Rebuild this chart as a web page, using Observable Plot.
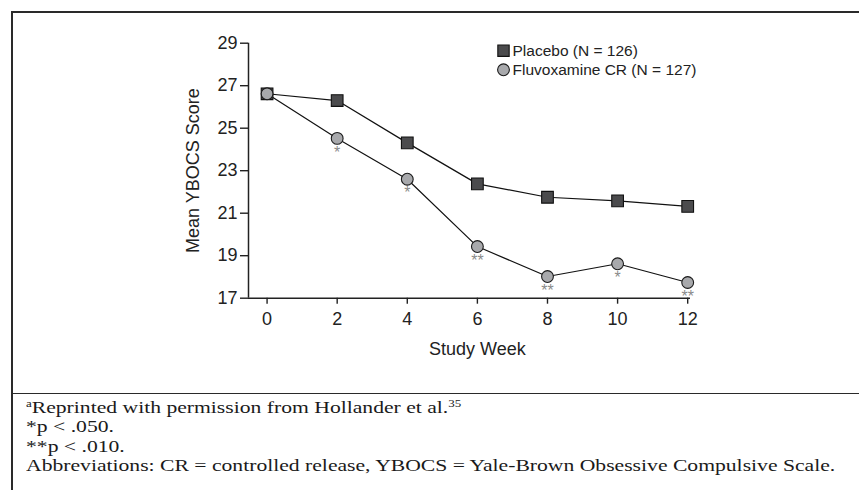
<!DOCTYPE html>
<html>
<head>
<meta charset="utf-8">
<script src="https://cdn.jsdelivr.net/npm/d3@7"></script>
<script src="https://cdn.jsdelivr.net/npm/@observablehq/plot@0.6"></script>
<style>
  html, body { margin: 0; padding: 0; background: #fff; }
  #wrap { position: relative; width: 859px; height: 490px; overflow: hidden; background: #fff; }
  #chart { position: absolute; left: 0; top: 0; }
  .bl { position: absolute; background: #2a2a2a; }
  #notes { position: absolute; left: 26px; top: 397.6px; font-family: "Liberation Serif", "Times New Roman", serif;
           font-size: 17.6px; line-height: 19.6px; color: #1a1a1a; white-space: nowrap;
           transform: scaleX(1.23); transform-origin: 0 0; }
  #notes sup { font-size: 0.6em; line-height: 0; vertical-align: 0.6em; }
</style>
</head>
<body>
<div id="wrap">
  <div id="chart"></div>
  <div class="bl" style="left:11px; top:11px; width:1.6px; height:500px;"></div>
  <div class="bl" style="left:11px; top:11px; width:870px; height:1.6px;"></div>
  <div class="bl" style="left:11px; top:392.5px; width:870px; height:1.8px;"></div>
  <div id="notes">
    <div><sup>a</sup>Reprinted with permission from Hollander et al.<sup>35</sup></div>
    <div>*p &lt; .050.</div>
    <div>**p &lt; .010.</div>
    <div>Abbreviations: CR = controlled release, YBOCS = Yale-Brown Obsessive Compulsive Scale.</div>
  </div>
</div>
<script>
const weeks = [0, 2, 4, 6, 8, 10, 12];
const placebo = [26.62, 26.3, 24.31, 22.38, 21.75, 21.58, 21.32];
const fluvoxamine = [26.62, 24.52, 22.6, 19.43, 18.02, 18.62, 17.74];
const significance = ["", "*", "*", "**", "**", "*", "**"];
const xTicks = [0, 2, 4, 6, 8, 10, 12];
const yTicks = [17, 19, 21, 23, 25, 27, 29];
const legendLabels = ["Placebo (N = 126)", "Fluvoxamine CR (N = 127)"];
const xLabel = "Study Week";
const yLabel = "Mean YBOCS Score";

const placeboData = weeks.map((w, i) => ({week: w, score: placebo[i]}));
const fluvData = weeks.map((w, i) => ({week: w, score: fluvoxamine[i], sig: significance[i]}));

const xMin = -0.53, xMax = 12.08;
const ink = "#222";

const plot = Plot.plot({
  width: 859,
  height: 393,
  marginLeft: 248,
  marginRight: 169,
  marginTop: 42.7,
  marginBottom: 95.3,
  style: {fontFamily: "'Liberation Sans', Arial, sans-serif", fontSize: "18px", color: ink, background: "transparent"},
  x: {domain: [xMin, xMax]},
  y: {domain: [17, 29]},
  marks: [
    Plot.axisY({ticks: yTicks, tickSize: 8, tickPadding: 3, label: null, fontSize: 18, stroke: ink, strokeWidth: 1.4}),
    Plot.axisX({ticks: xTicks, tickSize: 6, tickPadding: 8, label: null, fontSize: 18, stroke: ink, strokeWidth: 1.4}),
    Plot.ruleX([xMin], {y1: 17, y2: 29, stroke: ink, strokeWidth: 1.5}),
    Plot.ruleY([17], {x1: xMin, x2: xMax, stroke: ink, strokeWidth: 1.5}),
    Plot.line(placeboData, {x: "week", y: "score", stroke: "#111", strokeWidth: 1.2}),
    Plot.line(fluvData, {x: "week", y: "score", stroke: "#111", strokeWidth: 1.2}),
    Plot.dot(placeboData, {x: "week", y: "score", symbol: "square", r: 6.6, fill: "#4b4b4d", stroke: "#111", strokeWidth: 1.1}),
    Plot.dot(fluvData, {x: "week", y: "score", symbol: "circle", r: 5.9, fill: "#a8a9ac", stroke: "#1a1a1a", strokeWidth: 1.1}),
    Plot.text(fluvData, {x: "week", y: "score", text: "sig", dy: 14, fontSize: 16, fill: "#8a8a8a"}),
    // legend
    Plot.dot([legendLabels[0]], {frameAnchor: "top-left", dx: 255, dy: 7.5, symbol: "square", r: 6.4, fill: "#4b4b4d", stroke: "#111", strokeWidth: 1.1}),
    Plot.dot([legendLabels[1]], {frameAnchor: "top-left", dx: 255, dy: 26.6, symbol: "circle", r: 5.9, fill: "#a8a9ac", stroke: "#1a1a1a", strokeWidth: 1.1}),
    Plot.text([legendLabels[0]], {frameAnchor: "top-left", dx: 264, dy: 7.5, text: d => d, textAnchor: "start", lineAnchor: "middle", fontSize: 15.5, fill: ink}),
    Plot.text([legendLabels[1]], {frameAnchor: "top-left", dx: 264, dy: 26.6, text: d => d, textAnchor: "start", lineAnchor: "middle", fontSize: 15.5, fill: ink}),
    // axis titles
    Plot.text([yLabel], {frameAnchor: "left", dx: -55, rotate: -90, text: d => d, textAnchor: "middle", lineAnchor: "middle", fontSize: 18, fill: ink}),
    Plot.text([xLabel], {x: () => 6, y: () => 17, dy: 51, text: d => d, fontSize: 18, fill: ink})
  ]
});
document.getElementById("chart").appendChild(plot);
</script>
</body>
</html>
